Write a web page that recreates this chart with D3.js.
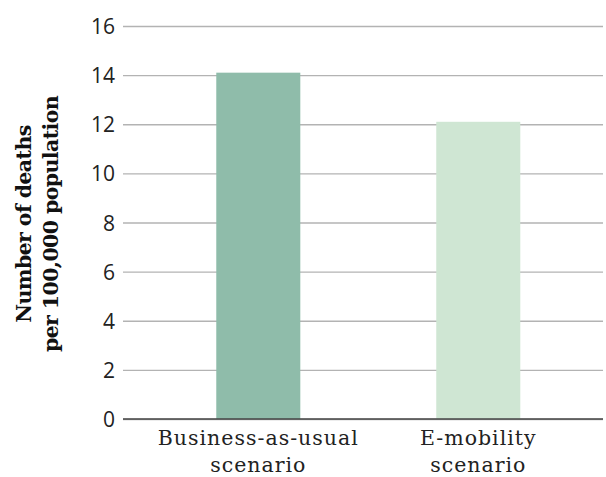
<!DOCTYPE html>
<html>
<head>
<meta charset="utf-8">
<script src="https://cdn.jsdelivr.net/npm/d3@7"></script>
<style>
  body { margin: 0; background: #fff; }
  .yaxis .tick text { font-family: "Open Sans", sans-serif; font-size: 21px; fill: #222; }
  .cat { font-family: "DejaVu Serif", serif; font-size: 20.5px; letter-spacing: 1px; fill: #222; }
  .ytitle { font-family: "DejaVu Serif", serif; font-size: 20.5px; font-weight: bold; letter-spacing: -0.6px; fill: #111; }
</style>
</head>
<body>
<svg id="chart" width="606" height="477"></svg>
<script>
const categories = [["Business-as-usual", "scenario"], ["E-mobility", "scenario"]]
const values = [14.1, 12.1]
const colors = ["#8fbcaa", "#cfe6d3"]
const yTicks = [0, 2, 4, 6, 8, 10, 12, 14, 16]

let plotLeft = 123, plotRight = 603, plotTop = 26, plotBottom = 419

let svg = d3.select('#chart')

let y = d3.scaleLinear().domain([0, 16]).range([plotBottom, plotTop])

let x = d3.scaleBand()
  .domain(d3.range(categories.length))
  .range([plotLeft, plotRight])
  .paddingInner(0.618)
  .paddingOuter(0.4)
  .align(0.53)

// gridlines + tick labels
let yaxis = svg.append('g')
  .attr('class', 'yaxis')
  .attr('transform', 'translate(' + plotLeft + ',0)')
  .call(d3.axisLeft(y).tickValues(yTicks).tickSizeInner(-(plotRight - plotLeft)).tickSizeOuter(0).tickPadding(8))

yaxis.select('.domain').remove()
yaxis.selectAll('line').attr('stroke', '#b3b3b3').attr('stroke-width', 1.3)
yaxis.selectAll('text').attr('dy', '0.36em')

// bars
svg.append('g').selectAll('rect')
  .data(values)
  .join('rect')
  .attr('x', (d, i) => x(i))
  .attr('width', x.bandwidth())
  .attr('y', d => y(d))
  .attr('height', d => y(0) - y(d))
  .attr('fill', (d, i) => colors[i])

// baseline
svg.append('line')
  .attr('x1', plotLeft).attr('x2', plotRight)
  .attr('y1', y(0)).attr('y2', y(0))
  .attr('stroke', '#444').attr('stroke-width', 1.5)

// category labels
categories.forEach((c, i) => {
  let cx = x(i) + x.bandwidth() / 2
  let t = svg.append('text')
    .attr('class', 'cat')
    .attr('text-anchor', 'middle')
    .attr('x', cx)
    .attr('y', 445)
  c.forEach((line, j) => {
    t.append('tspan')
      .attr('x', cx)
      .attr('dy', j == 0 ? 0 : 27)
      .text(line)
  })
})

// y title
let yt = svg.append('text')
  .attr('class', 'ytitle')
  .attr('text-anchor', 'middle')
  .attr('transform', 'translate(31,224) rotate(-90)')

yt.append('tspan').attr('x', 0).attr('dy', 0).text('Number of deaths')
yt.append('tspan').attr('x', 0).attr('dy', 27).text('per 100,000 population')
</script>
</body>
</html>
